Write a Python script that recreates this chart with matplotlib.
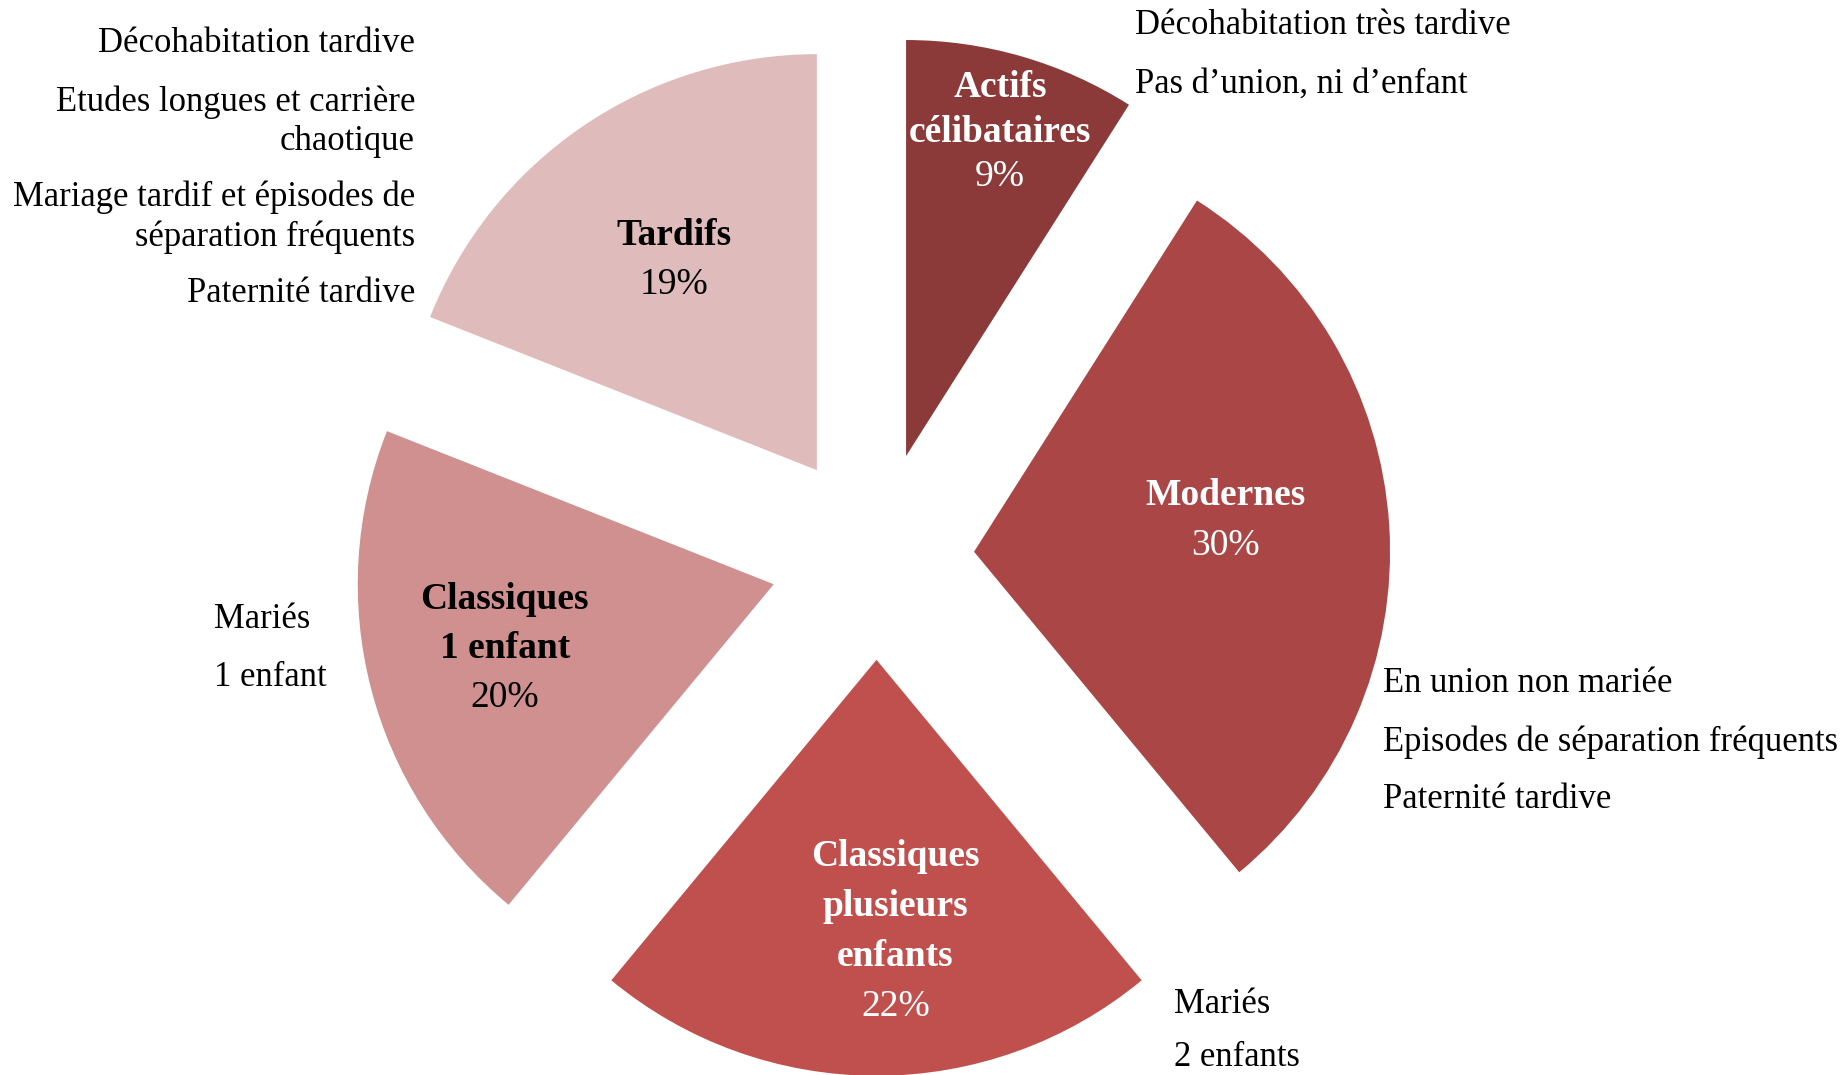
import numpy as np
import matplotlib
matplotlib.use("Agg")
import matplotlib.pyplot as plt

# parts (%) clockwise from 12 o'clock
categories = ["Actifs\ncélibataires", "Modernes", "Classiques\nplusieurs\nenfants",
              "Classiques\n1 enfant", "Tardifs"]
shares = [9, 30, 22, 20, 19]
colors = ["#8C393A", "#AA4645", "#C0504D", "#D19090", "#E0BBBC"]
text_colors = ["white", "white", "white", "black", "black"]
explode = [0.255, 0.235, 0.245, 0.255, 0.255]
# label placement inside each slice: radial distance (r = 1), angle shift, line step
label_dist = [0.81, 0.61, 0.655, 0.665, 0.61]
label_turn = [0.0, 3.5, 4.0, -1.0, 0.0]
label_step = [0.107, 0.12, 0.12, 0.118, 0.12]

# descriptions around the pie
desc_left = ["Décohabitation tardive", "Etudes longues et carrière\nchaotique",
             "Mariage tardif et épisodes de\nséparation fréquents", "Paternité tardive"]
desc_top = ["Décohabitation très tardive", "Pas d\u2019union, ni d\u2019enfant"]
desc_right = ["En union non mariée", "Episodes de séparation fréquents", "Paternité tardive"]
desc_bottom = ["Mariés", "2 enfants"]
desc_mid = ["Mariés", "1 enfant"]

plt.rcParams['font.family'] = ['Liberation Serif', 'DejaVu Serif']

W, H = 1842, 1075
fig = plt.figure(figsize=(W / 100, H / 100), dpi=100)
ax = fig.add_axes([0, 0, 1, 1])

wedges, _ = ax.pie(shares, colors=colors, startangle=90, counterclock=False,
                   explode=explode, radius=1.0,
                   wedgeprops=dict(linewidth=0))

ax.set_xlim(-2.107, 2.321)
ax.set_ylim(-1.243, 1.341)
ax.set_aspect('equal')
ax.axis('off')

# labels inside the slices
for w, cat, val, tc, dist, turn, step in zip(wedges, categories, shares, text_colors,
                                             label_dist, label_turn, label_step):
    mid = np.radians((w.theta1 + w.theta2) / 2 + turn)
    x = w.center[0] + dist * np.cos(mid)
    y = w.center[1] + dist * np.sin(mid)
    nlines = cat.count("\n") + 2
    top = y + step * (nlines - 1) / 2
    for i, line in enumerate(cat.split("\n")):
        ax.text(x, top - i * step, line, ha='center', va='center', color=tc,
                fontsize=27, fontweight='bold')
    ax.text(x, top - (nlines - 1) * step, f"{val}%", ha='center', va='center',
            color=tc, fontsize=27)

fs = 24.9

def put(x_px, y_px, s, ha):
    fig.text(x_px / W, 1 - (y_px + 3.5) / H, s, ha=ha, va='center', fontsize=fs,
             linespacing=1.25)

# left block (right aligned)
for s, y in zip(desc_left, [40, 118, 214, 290]):
    put(415, y, s, 'right')
for s, y in zip(desc_top, [22, 81]):
    put(1135, y, s, 'left')
for s, y in zip(desc_right, [680, 739, 796]):
    put(1383, y, s, 'left')
for s, y in zip(desc_bottom, [1001, 1054]):
    put(1174, y, s, 'left')
for s, y in zip(desc_mid, [616, 674]):
    put(214, y, s, 'left')

fig.savefig("out.png", dpi=100, facecolor='white')
